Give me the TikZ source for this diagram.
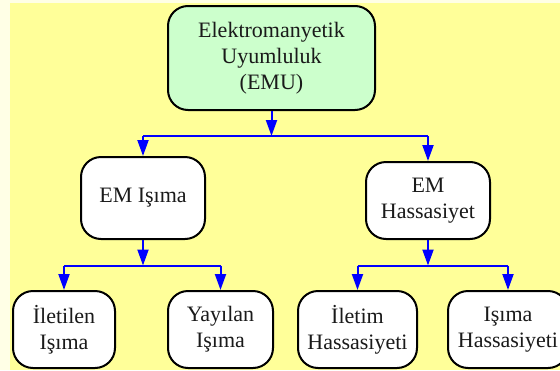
\documentclass[tikz,border=0pt]{standalone}
\usepackage{fontspec}
\setmainfont{Liberation Serif}
\usetikzlibrary{arrows.meta}
\definecolor{paleyellow}{HTML}{FFFFE6}
\definecolor{bgyellow}{HTML}{FFFF99}
\definecolor{rootgreen}{HTML}{CCFFCC}
\definecolor{textgrey}{HTML}{1A1A1A}
\tikzset{
  box/.style={draw=black, line width=2pt, rounded corners=20pt, fill=white,
    align=center, text=textgrey, inner sep=0pt,
    font=\fontsize{22pt}{26pt}\selectfont},
  link/.style={draw=blue, line width=2pt, -{Triangle[width=11pt,length=16pt]}},
  bar/.style={draw=blue, line width=2pt},
}
\begin{document}
\begin{tikzpicture}[x=1pt, y=-1pt]
  \clip (0,0) rectangle (560,370);
  \fill[paleyellow] (0,0) rectangle (560,370);
  \fill[bgyellow] (10,3) rectangle (560,370);

  % root
  \node[box, fill=rootgreen, minimum width=207pt, minimum height=104pt]
    (emu) at (271.5,58) {Elektromanyetik\\Uyumluluk\\(EMU)};

  % second level
  \node[box, minimum width=124pt, minimum height=82pt]
    (isima) at (143,198) {EM Işıma};
  \node[box, minimum width=124pt, minimum height=77pt]
    (hass) at (428,200.5) {EM\\Hassasiyet};

  % leaves
  \node[box, minimum width=102pt, minimum height=77pt]
    (iletilen) at (64,329.5) {İletilen\\Işıma};
  \node[box, minimum width=105pt, minimum height=77pt]
    (yayilan) at (220.5,329.5) {Yayılan\\Işıma};
  \node[box, minimum width=119pt, minimum height=77pt]
    (iletim) at (357.5,329.5) {İletim\\Hassasiyeti};
  \node[box, minimum width=120pt, minimum height=77pt]
    (ihass) at (508,329.5) {Işıma\\Hassasiyeti};

  % branch points
  \coordinate (j0) at (271.5,136);
  \coordinate (j1) at (143,265.5);
  \coordinate (j2) at (428,265.5);

  % connectors
  \draw[link] (emu.south) -- (j0);
  \draw[bar] (isima.north |- j0) -- (hass.north |- j0);
  \draw[link] (isima.north |- j0) -- (isima.north);
  \draw[link] (hass.north |- j0) -- (hass.north);

  \draw[link] (isima.south) -- (j1);
  \draw[bar] (iletilen.north |- j1) -- (yayilan.north |- j1);
  \draw[link] (iletilen.north |- j1) -- (iletilen.north);
  \draw[link] (yayilan.north |- j1) -- (yayilan.north);

  \draw[link] (hass.south) -- (j2);
  \draw[bar] (iletim.north |- j2) -- (ihass.north |- j2);
  \draw[link] (iletim.north |- j2) -- (iletim.north);
  \draw[link] (ihass.north |- j2) -- (ihass.north);
\end{tikzpicture}
\end{document}
